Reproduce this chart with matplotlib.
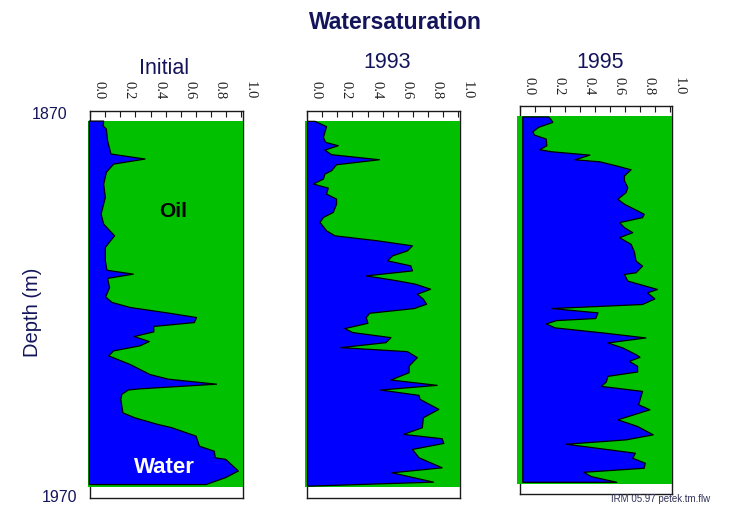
import matplotlib
matplotlib.use('Agg')
import matplotlib.pyplot as plt
from matplotlib.patches import Rectangle
from matplotlib.transforms import ScaledTranslation

# ---------------- data ----------------
title = "Watersaturation"
panel_titles = ["Initial", "1993", "1995"]
depth_ticks = [1870, 1970]
depth_labels = ["1870", "1970"]
sat_ticks = [0.0, 0.2, 0.4, 0.6, 0.8, 1.0]
sat_labels = ["0.0", "0.2", "0.4", "0.6", "0.8", "1.0"]
sat_minor = [0.1, 0.3, 0.5, 0.7, 0.9]
depth_label = "Depth (m)"
oil_label = "Oil"
water_label = "Water"
footer = "IRM 05.97 petek.tm.flw"

depth_initial = [1872.6, 1873.8, 1874.7, 1877.7, 1881.1, 1882.4, 1883.7, 1885.8, 1888.9,
                 1892.3, 1896.6, 1899.2, 1902.2, 1905.2, 1908.7, 1911.1, 1912.1, 1913.2,
                 1915.6, 1918.0, 1919.4, 1920.7, 1922.2, 1923.3, 1924.6, 1925.6, 1927.0,
                 1928.2, 1929.5, 1930.6, 1931.9, 1933.2, 1935.4, 1938.0, 1939.2, 1940.5,
                 1941.7, 1942.0, 1943.1, 1944.4, 1947.9, 1949.2, 1950.9, 1951.7, 1953.9,
                 1956.5, 1957.8, 1959.5, 1959.9, 1962.9, 1964.6, 1966.4]
sw_initial = [0.087, 0.083, 0.105, 0.113, 0.135, 0.36, 0.153, 0.105, 0.087,
              0.098, 0.07, 0.087, 0.159, 0.098, 0.098, 0.109, 0.283, 0.113,
              0.126, 0.10, 0.142, 0.261, 0.523, 0.70, 0.686, 0.418, 0.418,
              0.288, 0.388, 0.327, 0.153, 0.12, 0.261, 0.392, 0.512, 0.832,
              0.327, 0.25, 0.207, 0.20, 0.214, 0.294, 0.446, 0.534, 0.697,
              0.719, 0.817, 0.824, 0.893, 0.976, 0.893, 0.763]

depth_1993 = [1872.67, 1874.05, 1876.80, 1878.10, 1878.96, 1880.08, 1881.28, 1882.58, 1883.87,
              1885.42, 1886.28, 1887.57, 1888.86, 1889.90, 1891.45, 1892.74, 1894.03, 1896.18,
              1897.48, 1898.77, 1900.92, 1902.21, 1903.51, 1904.80, 1906.09, 1907.38, 1908.67,
              1909.97, 1911.26, 1912.55, 1913.84, 1914.70, 1916.00, 1917.29, 1918.58, 1919.87,
              1920.99, 1922.20, 1923.32, 1924.78, 1926.16, 1927.19, 1928.49, 1929.78, 1931.07,
              1932.10, 1933.65, 1935.81, 1937.53, 1939.42, 1940.80, 1942.01, 1943.39, 1944.42,
              1947.00, 1949.16, 1951.74, 1953.46, 1954.58, 1955.79, 1957.34, 1959.49, 1962.08,
              1963.37, 1965.78, 1966.8]
sw_1993 = [0.05, 0.126, 0.105, 0.12, 0.203, 0.115, 0.159, 0.475, 0.192,
           0.159, 0.115, 0.105, 0.039, 0.137, 0.126, 0.192, 0.192, 0.17,
           0.105, 0.083, 0.126, 0.181, 0.464, 0.693, 0.66, 0.562, 0.529,
           0.682, 0.693, 0.388, 0.595, 0.714, 0.813, 0.725, 0.765, 0.786,
           0.704, 0.41, 0.388, 0.399, 0.246, 0.30, 0.551, 0.518, 0.22,
           0.66, 0.725, 0.671, 0.671, 0.551, 0.856, 0.482, 0.736, 0.743,
           0.867, 0.765, 0.758, 0.634, 0.889, 0.90, 0.693, 0.736, 0.889,
           0.558, 0.832, 0.02]

depth_1995 = [1872.7, 1873.06, 1874.09, 1875.38, 1876.50, 1877.36, 1878.40, 1880.12, 1881.15,
              1881.67, 1882.53, 1883.74, 1884.25, 1885.29, 1886.32, 1887.87, 1889.17, 1890.89,
              1892.18, 1893.90, 1895.19, 1897.78, 1898.64, 1899.93, 1901.22, 1902.52, 1903.81,
              1905.53, 1907.51, 1909.84, 1911.13, 1912.85, 1913.28, 1915.00, 1917.16, 1918.02,
              1919.6, 1921.03, 1922.07, 1923.19, 1924.65, 1925.17, 1926.03, 1927.06, 1928.36,
              1929.65, 1930.94, 1932.23, 1933.95, 1934.64, 1935.68, 1936.97, 1938.43, 1939.55,
              1941.02, 1942.14, 1943.43, 1946.87, 1948.17, 1950.75, 1952.47, 1954.63, 1955.92,
              1957.04, 1959.36, 1960.65, 1961.95, 1963.24, 1964.27, 1965.39, 1966.86]
sw_1995 = [0.186, 0.197, 0.215, 0.12, 0.083, 0.092, 0.171, 0.175, 0.127,
           0.208, 0.461, 0.362, 0.526, 0.636, 0.735, 0.691, 0.691, 0.713,
           0.702, 0.647, 0.691, 0.822, 0.811, 0.658, 0.691, 0.746, 0.658,
           0.735, 0.757, 0.768, 0.811, 0.768, 0.691, 0.713, 0.91, 0.844,
           0.893, 0.811, 0.208, 0.515, 0.50, 0.241, 0.171, 0.23, 0.548,
           0.833, 0.581, 0.68, 0.768, 0.794, 0.724, 0.778, 0.778, 0.581,
           0.57, 0.537, 0.811, 0.785, 0.86, 0.647, 0.778, 0.882, 0.702,
           0.303, 0.763, 0.746, 0.829, 0.822, 0.421, 0.471, 0.64]

depths = [depth_initial, depth_1993, depth_1995]
sws = [sw_initial, sw_1993, sw_1995]

# ---------------- style ----------------
W, H = 730, 506
NAVY = '#14145a'
GREEN = '#00c000'
BLUE = '#0000ff'
SANS = 'Liberation Sans'
SERIF = 'Liberation Serif'

fig = plt.figure(figsize=(W / 100, H / 100), dpi=100)


def fx(px):
    return px / W


def fy(py):
    return 1 - py / H


# axes frames in pixels: (left, top, right, bottom)
frames = [(90, 111.5, 243, 499), (307, 111.5, 460, 499), (520, 107, 672, 495)]
# fill boxes in data units: (x0, x1, depth_top, depth_bottom, blue_base)
boxes = [(-0.013, 1.007, 1872.6, 1967.2, -0.008),
         (-0.013, 1.007, 1872.6, 1967.2, 0.0),
         (-0.017, 1.007, 1872.7, 1967.3, 0.015)]
title_pos = [(164, 74), (387, 68), (600, 68)]

for i in range(3):
    l, t, r, b = frames[i]
    ax = fig.add_axes([fx(l), fy(b), fx(r) - fx(l), fy(t) - fy(b)])
    ax.set_xlim(0, 1.01)
    ax.set_ylim(1970, 1870)
    ax.set_facecolor('white')
    for sp in ax.spines.values():
        sp.set_color('#1a1a1a')
        sp.set_linewidth(1.0)

    ax.xaxis.tick_top()
    ax.set_xticks(sat_ticks, sat_labels)
    ax.set_xticks(sat_minor, minor=True)
    ax.tick_params(axis='x', which='both', direction='in', length=4, width=0.8,
                   color='#1a1a1a', top=True, bottom=False,
                   labeltop=True, labelbottom=False, pad=8.5,
                   labelrotation=270, labelsize=10.5, labelcolor='#222222',
                   labelfontfamily=SERIF)
    offset = ScaledTranslation(9 / 100, 0, fig.dpi_scale_trans)
    for tk in ax.xaxis.get_major_ticks():
        tk.label2.set_transform(tk.label2.get_transform() + offset)

    if i == 0:
        ax.set_yticks(depth_ticks, depth_labels)
        ax.tick_params(axis='y', length=0, pad=9.5, labelsize=11.5, labelcolor=NAVY,
                       labelfontfamily=SANS)
        yt = ax.yaxis.get_major_ticks()
        yt[0].label1.set_transform(yt[0].label1.get_transform()
                                   + ScaledTranslation(-9 / 100, -2 / 100, fig.dpi_scale_trans))
        yt[1].label1.set_transform(yt[1].label1.get_transform()
                                   + ScaledTranslation(0, 3 / 100, fig.dpi_scale_trans))
    else:
        ax.set_yticks([])

    x0, x1, dt, db, base = boxes[i]
    ax.add_patch(Rectangle((x0, dt), x1 - x0, db - dt, facecolor=GREEN,
                           edgecolor='none', zorder=3, clip_on=False))
    d = depths[i]
    s = sws[i]
    ax.fill_betweenx(d, base, s, facecolor=BLUE, edgecolor='black',
                     linewidth=0.9, zorder=4, clip_on=False)

    tx, ty = title_pos[i]
    fig.text(fx(tx), fy(ty), panel_titles[i], ha='center', va='baseline',
             fontsize=15.5, color=NAVY, family=SANS)

    if i == 0:
        ax.text(0.55, 1897.1, oil_label, ha='center', va='baseline', fontsize=15,
                fontweight='bold', color='black', family=SANS, zorder=6)
        ax.text(0.49, 1963.2, water_label, ha='center', va='baseline', fontsize=16,
                fontweight='bold', color='white', family=SANS, zorder=6)

fig.text(fx(395), fy(29), title, ha='center', va='baseline', fontsize=16.5,
         fontweight='bold', color=NAVY, family=SANS)
fig.text(fx(32), fy(312), depth_label, ha='center', va='center', rotation=90,
         fontsize=14.5, color=NAVY, family=SANS)
fig.text(fx(661), fy(499), footer, ha='center', va='center', fontsize=7,
         color='#33335a', family=SANS)

fig.savefig('out.png', dpi=100)
